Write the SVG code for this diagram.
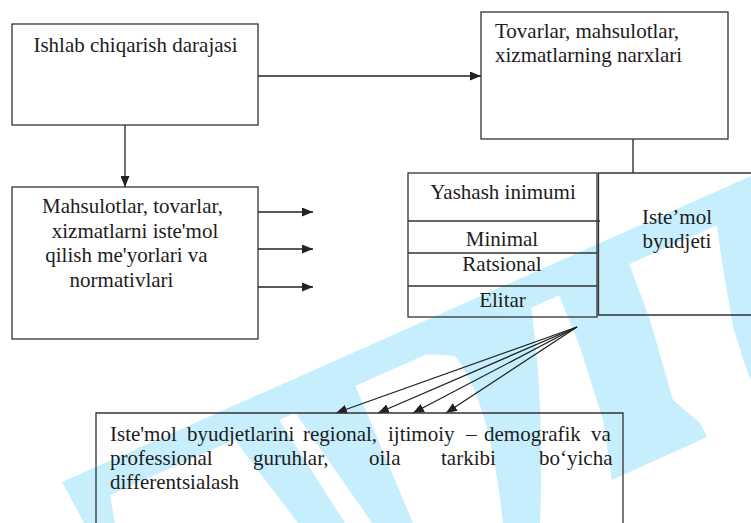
<svg xmlns="http://www.w3.org/2000/svg" width="751" height="523" viewBox="0 0 751 523">
<defs>
<style>
.box{fill:none;stroke:#333;stroke-width:1.3}
.ln{fill:none;stroke:#222;stroke-width:1.3}
.t{font-family:"Liberation Serif","Times New Roman",serif;font-size:21px;fill:#1e1c1d}
.c{text-anchor:middle}
.wm{fill:#c6eefc;stroke:none}
</style>
<marker id="ah" viewBox="0 0 11 9" markerWidth="11" markerHeight="9" refX="11" refY="4.5" orient="auto" markerUnits="userSpaceOnUse">
<path d="M0,0 L11,4.5 L0,9 Z" fill="#222"/>
</marker>
</defs>
<rect width="751" height="523" fill="#fff"/>
<g id="watermark">
<path class="wm" d="M62,482 L751,176 L751,210 L110,495 L115,523 L84,523 Z"/>
<path class="wm" d="M215,414 L262,393 L345,523 L298,523 Z"/>
<path class="wm" fill-rule="evenodd" d="M290,405 L530,300 Q545,400 540,523 L372,523 Z M353,380 Q400,348 455,356 Q490,400 503,523 L413,523 Z"/>
<path class="wm" d="M557,290 L624,250 L650,320 L673,400 L700,423 L707,437 L612,480 L603,420 L580,347 Z"/>
<path class="wm" d="M700,210 L751,190 L751,380 L745,365 L733,327 L722,262 L715,212 Z"/>
</g>
<g id="connectors">
<line class="ln" x1="258" y1="76" x2="481" y2="76" marker-end="url(#ah)"/>
<line class="ln" x1="125" y1="125" x2="125" y2="187" marker-end="url(#ah)"/>
<line class="ln" x1="633" y1="139" x2="633" y2="173"/>
<line class="ln" x1="258" y1="212" x2="313" y2="212" marker-end="url(#ah)"/>
<line class="ln" x1="258" y1="249" x2="313" y2="249" marker-end="url(#ah)"/>
<line class="ln" x1="258" y1="287" x2="313" y2="287" marker-end="url(#ah)"/>
<line class="ln" x1="577" y1="327" x2="336" y2="413" marker-end="url(#ah)"/>
<line class="ln" x1="577" y1="327" x2="378" y2="413" marker-end="url(#ah)"/>
<line class="ln" x1="577" y1="327" x2="413" y2="413" marker-end="url(#ah)"/>
<line class="ln" x1="577" y1="327" x2="446" y2="413" marker-end="url(#ah)"/>
</g>
<g id="n1">
<rect class="box" x="12" y="24" width="246" height="101"/>
<text class="t c" x="135.5" y="52">Ishlab chiqarish darajasi</text>
</g>
<g id="n2">
<rect class="box" x="481" y="12" width="247" height="127"/>
<text class="t" x="495" y="38">Tovarlar, mahsulotlar,</text>
<text class="t" x="495" y="62">xizmatlarning narxlari</text>
</g>
<g id="n3">
<rect class="box" x="12" y="187" width="246" height="152"/>
<text class="t c" x="132.5" y="213">Mahsulotlar, tovarlar,</text>
<text class="t c" x="135" y="238">xizmatlarni iste'mol</text>
<text class="t c" x="126.5" y="262">qilish me'yorlari va</text>
<text class="t c" x="121.5" y="287">normativlari</text>
</g>
<g id="n4">
<rect class="box" x="408" y="173" width="189" height="144"/>
<line class="box" x1="408" y1="221" x2="600" y2="221"/>
<line class="box" x1="408" y1="253" x2="597" y2="253"/>
<line class="box" x1="408" y1="286" x2="597" y2="286"/>
<text class="t c" x="503" y="199">Yashash inimumi</text>
<text class="t c" x="502" y="246">Minimal</text>
<text class="t c" x="502" y="271">Ratsional</text>
<text class="t c" x="502.5" y="307">Elitar</text>
</g>
<g id="n5">
<path class="box" d="M752,173 H598.5 V315 H752"/>
<text class="t c" x="677" y="224">Iste’mol</text>
<text class="t c" x="677" y="248">byudjeti</text>
</g>
<g id="n6">
<path class="box" d="M96,524 V413 H623 V524"/>
<text class="t" y="441"><tspan x="110">Iste'mol</tspan><tspan x="187">byudjetlarini</tspan><tspan x="303">regional,</tspan><tspan x="388">ijtimoiy</tspan><tspan x="466">–</tspan><tspan x="484">demografik</tspan><tspan x="591">va</tspan></text>
<text class="t" y="465"><tspan x="110">professional</tspan><tspan x="253">guruhlar,</tspan><tspan x="369">oila</tspan><tspan x="441">tarkibi</tspan><tspan x="539">bo‘yicha</tspan></text>
<text class="t" x="110" y="489">differentsialash</text>
</g>
</svg>
